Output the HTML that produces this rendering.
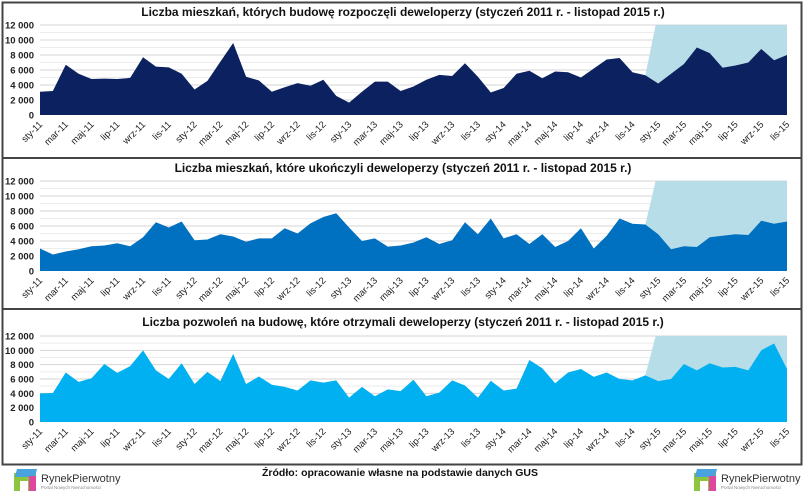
<!DOCTYPE html>
<html><head><meta charset="utf-8">
<style>
html,body{margin:0;padding:0;background:#fff;}
svg{display:block;font-family:"Liberation Sans","DejaVu Sans",sans-serif;}
</style></head>
<body>
<svg id="chart" width="805" height="498" viewBox="0 0 805 498" xmlns="http://www.w3.org/2000/svg">
  <rect x="0" y="0" width="805" height="498" fill="#fff"/>
  <rect x="2.5" y="2.5" width="799" height="462" fill="none" stroke="#444" stroke-width="2"/>
  <line x1="2" y1="158" x2="802" y2="158" stroke="#444" stroke-width="2"/>
  <line x1="2" y1="309" x2="802" y2="309" stroke="#444" stroke-width="2"/>
  <g id="panels"></g>
  <text x="400" y="476" text-anchor="middle" font-size="10.5" font-weight="bold" fill="#111">Źródło: opracowanie własne na podstawie danych GUS</text>
  <g transform="translate(14,469)">
    <rect x="0" y="4" width="22" height="18" fill="#8cc63f"/><rect x="3" y="0" width="20" height="8" fill="#4aa3df" transform="skewX(-15)"/><rect x="15" y="7" width="7" height="15" fill="#e0479e"/><rect x="6" y="12" width="8" height="10" fill="#fff"/>
    <text x="27" y="13" font-size="11" fill="#333">RynekPierwotny</text>
    <text x="27" y="20" font-size="4.5" fill="#888">Portal Nowych Nieruchomości</text>
  </g>
  <g transform="translate(694,469)">
    <rect x="0" y="4" width="22" height="18" fill="#8cc63f"/><rect x="3" y="0" width="20" height="8" fill="#4aa3df" transform="skewX(-15)"/><rect x="15" y="7" width="7" height="15" fill="#e0479e"/><rect x="6" y="12" width="8" height="10" fill="#fff"/>
    <text x="27" y="13" font-size="11" fill="#333">RynekPierwotny</text>
    <text x="27" y="20" font-size="4.5" fill="#888">Portal Nowych Nieruchomości</text>
  </g>
</svg>
<script>
const monthNames = ["sty","lut","mar","kwi","maj","cze","lip","sie","wrz","paź","lis","gru"];
const years = ["11","12","13","14","15"];
const yTicks = [0,2000,4000,6000,8000,10000,12000];
const yTickLabels = ["0","2 000","4 000","6 000","8 000","10 000","12 000"];
const startedValues = [3100,3200,6700,5500,4800,4850,4800,4950,7700,6450,6350,5500,3400,4550,7100,9600,5100,4600,3100,3700,4250,3900,4700,2550,1650,3100,4450,4450,3200,3800,4700,5350,5200,6900,5100,3000,3600,5500,5900,4900,5800,5700,5000,6200,7400,7600,5700,5300,4200,5500,6800,9000,8250,6300,6600,7000,8800,7300,8000];
const completedValues = [3000,2200,2600,2900,3300,3400,3700,3300,4500,6500,5800,6600,4100,4200,4900,4600,3900,4350,4350,5700,5000,6350,7200,7700,5800,4000,4350,3250,3400,3800,4500,3600,4100,6500,4900,7000,4350,4900,3600,4900,3200,4000,5700,3000,4700,7000,6300,6200,4900,2900,3300,3200,4500,4700,4900,4800,6700,6300,6600];
const permitsValues = [4000,4050,6900,5600,6100,8100,6850,7800,10000,7200,6000,8200,5300,7000,5700,9500,5300,6350,5200,4900,4400,5800,5500,5800,3400,4900,3600,4550,4300,5900,3600,4100,5800,5100,3400,5750,4400,4650,8650,7500,5400,6900,7400,6300,6900,6000,5800,6500,5700,6000,8100,7200,8200,7600,7700,7200,10000,10950,7400];
const highlightStartIndex = 47;

const categories = [];
for (let y = 0; y < years.length; y++) for (let m = 0; m < 12; m++) {
  if (categories.length < 59) categories.push(monthNames[m] + "-" + years[y]);
}

const panelDefs = [
  {name:"started", title:"Liczba mieszkań, których budowę rozpoczęli deweloperzy (styczeń 2011 r. - listopad 2015 r.)", values:startedValues, color:"#0c2160", top:25, base:115, titleY:16},
  {name:"completed", title:"Liczba mieszkań, które ukończyli deweloperzy (styczeń 2011 r. - listopad 2015 r.)", values:completedValues, color:"#0070c0", top:181, base:271, titleY:172},
  {name:"permits", title:"Liczba pozwoleń na budowę, które otrzymali deweloperzy (styczeń 2011 r. - listopad 2015 r.)", values:permitsValues, color:"#00b0f0", top:336, base:422, titleY:326}
];

const NS = "http://www.w3.org/2000/svg";
const X0 = 40, X1 = 787;
function xScale(i){ return X0 + (X1 - X0) * i / (categories.length - 1); }
function mk(tag, attrs, parent){
  const e = document.createElementNS(NS, tag);
  for (const k in attrs) e.setAttribute(k, attrs[k]);
  parent.appendChild(e); return e;
}
const root = document.getElementById("panels");
panelDefs.forEach(p => {
  const yScale = v => p.base - (p.base - p.top) * v / 12000;
  const g = mk("g", {}, root);
  
  
  const t = mk("text", {x:403, y:p.titleY, "text-anchor":"middle", "font-size":"12", "font-weight":"bold", fill:"#111"}, g);
  t.textContent = p.title;
  
  
  for (let v = 1000; v <= 12000; v += 1000) {
    const ln = mk("line", {x1:X0, x2:X1, y1:yScale(v), y2:yScale(v), stroke: v % 2000 === 0 ? "#d4d4d4" : "#ececec", "stroke-width":1}, g);
    
    
  }
  const hi = highlightStartIndex;
  const hx = xScale(hi), hx2 = xScale(hi) + (xScale(hi+1)-xScale(hi))*0.8;
  const hp = mk("polygon", {points:`${hx},${p.base} ${hx},${yScale(p.values[hi])} ${hx2},${p.top} ${X1},${p.top} ${X1},${p.base}`, fill:"#b7dde8"}, g);
  
  
  let pts = `${xScale(0)},${p.base} `;
  p.values.forEach((v,i) => { pts += `${xScale(i)},${yScale(v)} `; });
  pts += `${xScale(p.values.length-1)},${p.base}`;
  const area = mk("polygon", {points:pts, fill:p.color}, g);
  
  
  yTicks.forEach((v,k) => {
    const tx = mk("text", {x:34, y:yScale(v)+3.5, "text-anchor":"end", "font-size":"9.5", "font-weight":"bold", fill:"#222"}, g);
    tx.textContent = yTickLabels[k];
    
    
  });
  categories.forEach((c,i) => {
    if (i % 2 !== 0) return;
    const x = xScale(i) + 3, y = p.base + 10;
    const tx = mk("text", {x:x, y:y, "text-anchor":"end", "font-size":"9.5", fill:"#222", transform:`rotate(-45 ${x} ${y})`}, g);
    tx.textContent = c;
    
    
  });
});
</script>
</body></html>
